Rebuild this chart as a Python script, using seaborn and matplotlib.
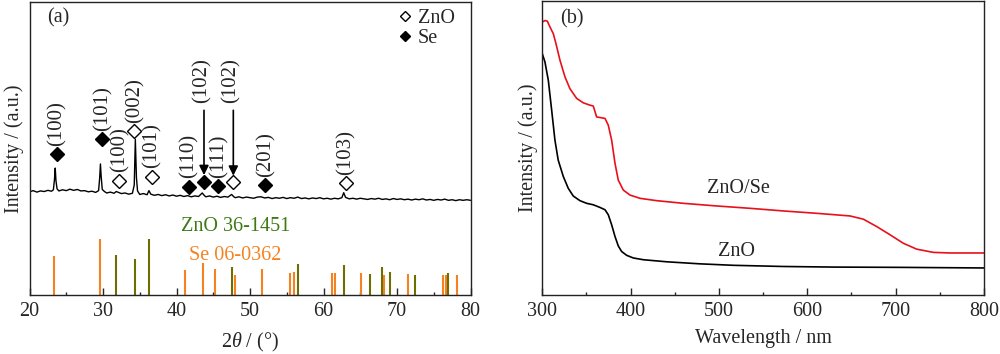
import matplotlib
matplotlib.use("Agg")
import matplotlib.pyplot as plt
import seaborn as sns
from matplotlib.lines import Line2D
from matplotlib.ticker import MultipleLocator

# (a) XRD pattern
xrd_2theta = [20.0, 20.5, 21.0, 21.5, 22.0, 22.5, 23.0, 23.25, 23.4, 23.5, 23.6, 23.75,
              24.0, 24.5, 25.0, 25.5, 26.0, 26.5, 27.0, 27.5, 28.0, 28.5, 29.0, 29.4,
              29.55, 29.65, 29.75, 29.9, 30.2, 30.5, 31.0, 31.5, 31.8, 32.1, 32.5, 33.0,
              33.5, 34.0, 34.25, 34.4, 34.55, 34.7, 35.0, 35.5, 36.0, 36.25, 36.5, 37.0,
              37.5, 38.0, 38.5, 39.0, 39.5, 40.0, 40.5, 41.0, 41.5, 42.0, 42.5, 43.0,
              43.5, 43.8, 44.0, 44.5, 45.0, 45.5, 46.0, 46.5, 47.0, 47.5, 47.8, 48.0,
              48.5, 49.0, 49.5, 50.0, 50.5, 51.0, 51.5, 52.0, 52.5, 53.0, 53.5, 54.0,
              54.5, 55.0, 55.5, 56.0, 56.5, 57.0, 57.5, 58.0, 58.5, 59.0, 59.5, 60.0,
              60.5, 61.0, 61.5, 62.0, 62.5, 62.75, 63.0, 63.5, 64.0, 64.5, 65.0, 65.5,
              66.0, 66.5, 67.0, 67.5, 68.0, 68.5, 69.0, 69.5, 70.0, 70.5, 71.0, 71.5,
              72.0, 72.5, 73.0, 73.5, 74.0, 74.5, 75.0, 75.5, 76.0, 76.5, 77.0, 77.5,
              78.0, 78.5, 79.0, 79.5, 80.0]
xrd_int = [35.2, 35.6, 35.1, 35.5, 35.3, 35.7, 35.4, 35.9, 39.5, 43.3, 39.0, 36.2,
           35.5, 35.9, 35.6, 36.1, 35.7, 36.0, 35.5, 35.6, 35.2, 35.4, 35.0, 35.6,
           40.0, 44.7, 40.5, 36.0, 35.3, 34.8, 35.1, 34.7, 35.3, 35.0, 34.6, 34.8,
           34.4, 34.7, 37.5, 53.1, 40.0, 35.5, 34.3, 34.6, 34.2, 35.6, 34.4, 34.0,
           34.3, 33.9, 34.2, 33.8, 34.1, 33.7, 34.0, 33.6, 33.9, 33.5, 33.8, 33.6,
           34.8, 33.9, 33.5, 33.8, 33.4, 33.7, 33.3, 33.6, 33.4, 34.3, 33.5, 33.2,
           33.5, 33.1, 33.4, 33.2, 33.0, 33.4, 33.5, 33.1, 33.3, 32.9, 33.2, 33.0,
           33.3, 32.9, 33.2, 33.0, 33.4, 32.9, 33.1, 32.8, 33.1, 32.9, 33.2, 32.8,
           33.0, 32.7, 33.0, 32.8, 33.2, 34.9, 33.3, 32.8, 33.0, 32.7, 33.0, 32.8,
           32.6, 32.9, 32.7, 33.0, 32.6, 32.8, 32.5, 32.9, 32.6, 32.8, 32.5, 32.7,
           32.4, 32.7, 32.5, 32.8, 32.4, 32.6, 32.3, 32.6, 32.4, 32.7, 32.3, 32.5,
           32.2, 32.5, 32.3, 32.5, 32.3]

# reference cards (stick heights)
zno_pos = [31.77, 34.35, 36.26, 47.5, 56.55, 62.8, 66.35, 67.9, 69.05, 72.5, 76.95]
zno_h = [13.7, 12.2, 19.0, 9.5, 10.6, 10.2, 7.2, 9.5, 8.0, 6.8, 7.5]
se_pos = [23.4, 29.6, 41.2, 43.55, 45.25, 48.0, 51.65, 55.5, 56.0, 61.1, 61.55,
          65.15, 68.2, 71.5, 76.3, 76.6, 78.1]
se_h = [13.3, 19.0, 8.5, 10.9, 8.9, 6.8, 8.9, 7.6, 8.0, 7.5, 7.6,
        7.6, 6.8, 7.2, 6.7, 6.9, 6.8]

# peak marks
mark_2theta = [23.7, 29.9, 32.2, 34.26, 36.6, 41.66, 43.74, 45.7, 47.73, 52.04, 63.0]
mark_y = [48.1, 53.1, 39.0, 56.0, 40.4, 37.0, 38.7, 37.2, 38.5, 37.5, 38.1]
mark_phase = ["Se", "Se", "ZnO", "ZnO", "ZnO", "Se", "Se", "Se", "ZnO", "Se", "ZnO"]
mark_hkl = ["(100)", "(101)", "(100)", "(002)", "(101)", "(110)", "(102)", "(111)",
            "(102)", "(201)", "(103)"]
mark_arrow = [False, False, False, False, False, False, True, False, True, False, False]

# (b) UV-vis spectra
wl_zno = [300, 303, 306.8, 310.6, 314.3, 318, 323.8, 329.4, 335, 342.6, 350.2, 357.7,
          365.3, 371, 374.7, 378.5, 382.3, 386, 389.8, 395.5, 403, 414.4, 440.8,
          478.5, 516.3, 572.9, 629.5, 705, 800]
abs_zno = [0.821, 0.793, 0.731, 0.629, 0.527, 0.459, 0.403, 0.363, 0.337, 0.321, 0.312,
           0.307, 0.298, 0.290, 0.273, 0.239, 0.199, 0.167, 0.148, 0.135, 0.126, 0.120,
           0.113, 0.106, 0.101, 0.097, 0.095, 0.094, 0.092]
wl_znose = [300, 303, 305.7, 308.7, 312.5, 315.5, 320, 325.7, 331.3, 338.9, 346.4, 354,
            357.7, 361.5, 365.3, 371, 374.7, 378.5, 382.3, 386, 391.7, 399.3, 410.6,
            429.5, 459.6, 497.4, 535.1, 572.9, 610.6, 648.3, 663.4, 678.5, 693.6, 708.7,
            723.8, 742.7, 761.6, 800]
abs_znose = [0.929, 0.934, 0.932, 0.912, 0.889, 0.855, 0.799, 0.742, 0.702, 0.669, 0.654,
             0.646, 0.643, 0.606, 0.604, 0.601, 0.578, 0.527, 0.448, 0.391, 0.357, 0.340,
             0.329, 0.321, 0.312, 0.303, 0.295, 0.286, 0.278, 0.269, 0.258, 0.233, 0.205,
             0.176, 0.156, 0.145, 0.143, 0.143]

sns.set_style("ticks")
plt.rcParams['font.family'] = ['Liberation Serif', 'DejaVu Serif']
plt.rcParams['mathtext.fontset'] = 'custom'
plt.rcParams['mathtext.it'] = 'Liberation Serif:italic'
plt.rcParams['mathtext.rm'] = 'Liberation Serif'
fs = 14.5

fig = plt.figure(figsize=(10, 3.54), dpi=100)
ax1 = fig.add_axes([0.0295, 0.1667, 0.441, 0.828])
ax2 = fig.add_axes([0.5423, 0.1667, 0.4417, 0.83])

# ---- (a)
sns.lineplot(x=xrd_2theta, y=xrd_int, ax=ax1, color="black", lw=1.0)
ax1.vlines(se_pos, 0, se_h, color="#f58220", lw=1.5)
ax1.vlines(zno_pos, 0, zno_h, color="#6e6e00", lw=1.5)

for x, y, ph, hkl, arr in zip(mark_2theta, mark_y, mark_phase, mark_hkl, mark_arrow):
    face = "black" if ph == "Se" else "white"
    ax1.plot(x, y, marker="D", ms=7, mfc=face, mec="black", mew=1.0, ls="none")
    if arr:
        ax1.annotate("", xy=(x, y + 2.2), xytext=(x, 63.0),
                     arrowprops=dict(arrowstyle="-|>", color="black", lw=1.2,
                                     mutation_scale=14, shrinkA=0, shrinkB=0))
        ax1.text(x - 0.25, 65.5, hkl, rotation=90, ha="center", va="bottom", fontsize=15)
    else:
        ax1.annotate(hkl, xy=(x, y), xytext=(0.5, 6), textcoords="offset points",
                     rotation=90, ha="center", va="bottom", fontsize=15)

ax1.text(48, 23.3, "ZnO 36-1451", color="#3d7a14", fontsize=fs, ha="center", va="center")
ax1.text(48, 13.5, "Se 06-0362", color="#f58220", fontsize=fs, ha="center", va="center")
ax1.text(0.04, 0.945, "(a)", transform=ax1.transAxes, fontsize=fs, ha="left", va="center")

handles = [Line2D([], [], marker="D", ls="none", ms=5.5, mfc="white", mec="black", mew=1.0),
           Line2D([], [], marker="D", ls="none", ms=5.5, mfc="black", mec="black")]
ax1.legend(handles, ["ZnO", "Se"], loc="upper right", bbox_to_anchor=(0.965, 0.975),
           frameon=False, fontsize=fs, handlelength=0.7, handletextpad=0.3,
           labelspacing=0.05, borderpad=0, borderaxespad=0)

ax1.set_xlim(20, 80)
ax1.set_ylim(0, 100)
ax1.set_yticks([])
ax1.xaxis.set_major_locator(MultipleLocator(10))
ax1.xaxis.set_minor_locator(MultipleLocator(5))
ax1.set_xlabel(r"2$\it{\theta}$ / (°)", fontsize=fs, labelpad=7)
ax1.set_ylabel("Intensity / (a.u.)", fontsize=fs, labelpad=4)

# ---- (b)
sns.lineplot(x=wl_znose, y=abs_znose, ax=ax2, color="#e8101a", lw=1.2)
sns.lineplot(x=wl_zno, y=abs_zno, ax=ax2, color="black", lw=1.2)
ax2.text(522, 0.361, "ZnO/Se", fontsize=fs, ha="center", va="center")
ax2.text(520, 0.148, "ZnO", fontsize=fs, ha="center", va="center")
ax2.text(0.04, 0.94, "(b)", transform=ax2.transAxes, fontsize=fs, ha="left", va="center")
ax2.set_xlim(300, 800)
ax2.set_ylim(0, 1)
ax2.set_yticks([])
ax2.xaxis.set_major_locator(MultipleLocator(100))
ax2.xaxis.set_minor_locator(MultipleLocator(50))
ax2.set_xlabel("Wavelength / nm", fontsize=fs, labelpad=6)
ax2.set_ylabel("Intensity / (a.u.)", fontsize=fs, labelpad=3)

for ax in (ax1, ax2):
    for sp in ax.spines.values():
        sp.set_visible(True)
        sp.set_linewidth(1.0)
        sp.set_color("#222222")
    ax.tick_params(axis="x", which="major", direction="in", length=5, width=1.0,
                   labelsize=fs, pad=5, top=False)
    ax.tick_params(axis="x", which="minor", direction="in", length=2.5, width=1.0, top=False)

fig.savefig("out.png", dpi=100)
